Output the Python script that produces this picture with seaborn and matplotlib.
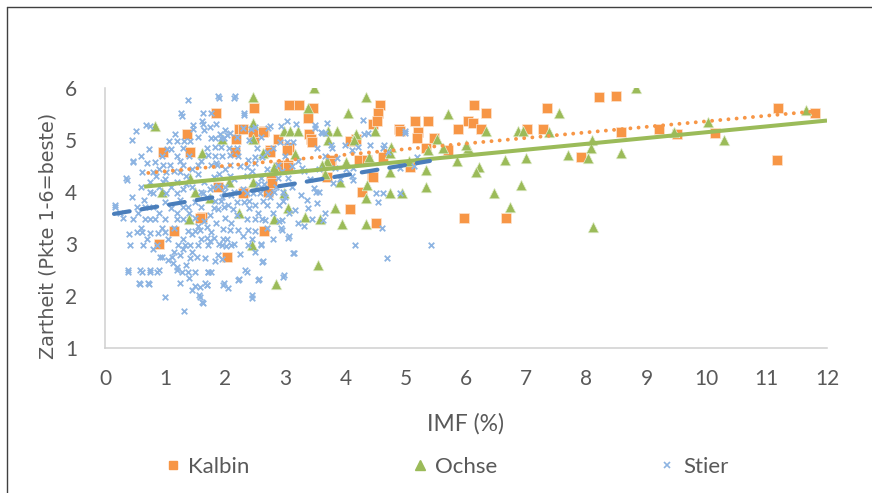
import numpy as np
import pandas as pd
import seaborn as sns
import matplotlib.pyplot as plt
from matplotlib.lines import Line2D

# Kalbin (orange squares)
kalbin_imf = [1.85, 2.47, 3.06, 3.22, 3.46, 3.37, 4.57, 4.54, 4.45, 1.36, 2.23, 2.29, 2.65, 2.17, 2.47,
              2.88, 3.06, 3.39, 3.42, 0.96, 1.42, 2.16, 2.75, 1.87, 2.31, 2.71, 2.76, 2.93, 3.04, 3.76,
              4.17, 4.22, 4.27, 4.43, 4.08, 4.51, 2.65, 1.61, 1.14, 0.89, 2.02, 4.89, 5.16, 5.20, 5.18,
              5.37, 5.46, 5.33, 5.70, 5.86, 6.03, 6.13, 6.11, 6.25, 6.33, 5.97, 6.66, 7.02, 7.28, 7.35,
              7.91, 8.21, 8.49, 8.58, 9.20, 9.50, 10.14, 11.17, 11.19, 11.80, 4.52, 4.90, 3.44, 4.07,
              3.74, 3.69, 4.62, 4.45, 5.07, 2.46, 2.63, 2.74, 3.02, 2.88, 3.04, 2.78, 2.30, 1.58, 4.35]
kalbin_zart = [5.52, 5.61, 5.68, 5.68, 5.61, 5.42, 5.68, 5.52, 5.31, 5.12, 5.21, 5.21, 5.18, 5.02, 5.02,
               5.02, 4.87, 5.12, 5.02, 4.76, 4.76, 4.76, 4.81, 4.10, 4.00, 4.00, 4.23, 4.52, 4.52, 4.62,
               5.02, 4.62, 4.00, 4.33, 3.67, 3.41, 3.25, 3.51, 3.25, 3.00, 2.75, 5.21, 5.36, 5.16, 5.03,
               5.36, 5.03, 4.84, 4.81, 5.22, 5.36, 5.68, 5.32, 5.22, 5.52, 3.50, 3.50, 5.22, 5.22, 5.61,
               4.68, 5.82, 5.85, 5.16, 5.22, 5.11, 5.13, 4.62, 5.61, 5.52, 5.37, 5.17, 4.96, 4.98,
               4.56, 4.29, 4.67, 4.29, 4.48, 5.15, 5.15, 4.77, 4.81, 4.48, 4.48, 4.17, 3.98, 3.50, 4.62]

# Ochse (green triangles)
ochse_imf = [3.48, 8.82, 2.46, 4.33, 4.04, 3.37, 2.46, 0.83, 5.70, 7.54, 11.65, 10.03, 10.29, 9.45, 7.38,
             6.86, 6.95, 6.34, 4.48, 4.17, 3.71, 3.85, 2.98, 3.07, 3.21, 1.94, 2.46, 3.71, 4.14, 4.76,
             5.51, 5.62, 6.04, 6.00, 8.10, 8.08, 8.03, 7.70, 8.58, 7.00, 6.65, 5.85, 5.37, 5.33, 5.05,
             6.22, 6.16, 4.73, 4.73, 4.38, 4.00, 3.69, 1.61, 2.63, 3.16, 2.81, 2.46, 1.41, 3.90, 3.65,
             0.94, 1.49, 2.98, 1.75, 2.06, 4.36, 4.33, 4.73, 4.94, 5.33, 6.46, 6.92, 6.73, 3.04, 3.82,
             2.23, 3.32, 3.57, 2.81, 1.39, 3.94, 4.33, 8.11, 2.45, 3.54, 2.85, 3.60]
ochse_zart = [6.00, 6.00, 5.82, 5.82, 5.52, 5.61, 5.32, 5.26, 5.50, 5.52, 5.58, 5.34, 5.00, 5.16, 5.16,
              5.18, 5.18, 5.18, 5.18, 5.11, 5.18, 5.18, 5.18, 5.18, 5.18, 5.02, 5.02, 5.00, 5.00, 4.87,
              5.02, 4.84, 4.84, 4.90, 5.00, 4.84, 4.65, 4.71, 4.75, 4.66, 4.62, 4.60, 4.81, 4.42, 4.60,
              4.49, 4.39, 4.39, 4.75, 4.68, 4.58, 4.60, 4.75, 4.75, 4.73, 4.49, 4.20, 4.26, 4.20, 4.34,
              4.00, 4.00, 3.98, 3.89, 4.20, 4.13, 3.89, 3.98, 3.98, 4.10, 3.98, 4.13, 3.72, 3.70, 3.70,
              3.59, 3.51, 3.49, 3.49, 3.49, 3.39, 3.39, 3.33, 2.99, 2.59, 2.24, 4.52]

# Stier (blue crosses)
stier_imf = [1.38, 1.88, 2.16, 1.26, 1.63, 1.77, 2.31, 1.46, 1.61, 0.51, 0.68, 0.74, 0.45, 0.46, 0.35, 0.16,
             1.28, 1.63, 1.16, 1.46, 1.06, 1.20, 1.31, 1.42, 0.73, 1.03, 1.10, 1.30, 0.83, 0.47, 0.96, 1.08,
             1.30, 1.55, 0.61, 0.80, 1.02, 1.24, 0.36, 0.75, 0.97, 1.19, 0.80, 1.02, 1.19, 1.63, 0.17, 0.53,
             0.66, 0.80, 1.30, 1.38, 1.60, 0.47, 0.66, 0.75, 0.83, 1.00, 1.19, 1.30, 0.53, 0.61, 0.75, 0.88,
             1.00, 1.38, 1.49, 1.58, 0.42, 0.63, 0.86, 1.21, 1.33, 1.41, 1.55, 0.91, 1.11, 1.25, 1.41, 1.53,
             1.66, 1.13, 1.19, 0.38, 0.61, 0.75, 0.86, 1.28, 1.38, 1.50, 1.71, 0.58, 0.73, 1.50, 1.58, 1.45,
             1.70, 1.00, 1.58, 1.63, 1.31,
             1.89, 2.14, 2.31, 1.74, 1.91, 2.03, 2.08, 1.76, 1.83, 1.93, 1.98, 2.29, 2.49, 2.71, 2.91, 3.02,
             3.12, 1.83, 1.93, 2.06, 2.52, 2.69, 1.71, 1.83, 1.94, 2.08, 2.21, 2.38, 2.49, 2.61, 1.76, 1.86,
             2.08, 2.36, 2.88, 3.27, 1.81, 2.08, 2.36, 2.60, 2.88, 3.04, 1.74, 1.88, 1.98, 2.14, 2.36, 2.46,
             2.58, 2.71, 2.81, 2.96, 1.83, 1.93, 2.31, 2.40, 2.50, 2.62, 2.90, 2.96,
             1.81, 1.88, 1.98, 2.12, 2.36, 2.49, 2.61, 2.66, 2.94, 1.69, 1.77, 1.96, 2.08, 2.21, 2.38, 2.49,
             2.94, 3.04, 1.69, 1.81, 1.96, 2.02, 2.10, 1.71, 1.94, 2.01, 2.38, 2.60, 1.88, 1.94, 1.83, 3.12,
             1.72, 1.77, 2.36, 2.61, 2.21, 2.54, 2.96, 1.69, 1.96, 2.04, 2.44, 2.45, 2.23, 2.56, 2.32, 2.62,
             2.97, 3.14, 3.05, 2.92, 2.60, 0.39, 0.59, 0.74, 0.89, 0.57, 0.72, 1.61, 1.57, 1.66, 1.97,
             3.69, 3.49, 3.60, 3.66, 4.29, 4.37, 4.99, 3.77, 4.10, 4.20, 4.62, 4.70, 3.83, 4.13, 4.90, 5.13,
             3.47, 3.50, 3.56, 3.79, 4.12, 4.50, 4.53, 4.62, 4.90, 3.52, 3.66, 3.62, 3.44, 4.60, 4.15, 4.68,
             5.42, 4.31, 4.40, 4.63, 4.98, 5.19, 3.76, 3.59, 3.02, 2.93, 2.74, 2.42, 3.17, 3.49, 3.99, 3.53,
             3.20, 3.30, 3.10, 3.25, 3.15, 3.38, 3.30, 2.80, 2.70, 2.75, 2.85, 2.55, 2.45, 2.25, 2.15, 2.00,
             1.90, 1.65, 1.55, 1.45, 1.35, 1.45, 1.30, 1.10, 0.90, 0.85, 0.70, 0.60, 0.95, 1.20, 1.40, 1.60,
             1.70, 1.55, 1.65, 1.85, 2.00, 2.20, 2.40, 2.60, 2.80, 3.00, 2.95, 3.10,
             1.00, 1.10, 1.20, 1.40, 1.50, 1.65, 1.75, 1.85, 1.55, 1.45, 1.30, 1.15, 1.05, 0.95, 0.90, 1.25,
             1.50, 1.70, 1.15, 1.30, 1.45, 1.60, 1.75, 1.90, 2.00, 2.10, 2.20, 2.30, 2.15, 2.25, 2.45, 2.55,
             2.70, 2.80, 2.50, 2.20, 2.05, 1.95, 2.40, 1.05, 1.20, 1.35, 1.40, 1.25, 0.95, 0.80, 0.70, 0.60,
             0.55, 0.65, 0.75, 0.60, 0.45, 0.30, 0.40, 0.25, 1.00, 1.15, 0.90, 1.25, 1.35, 1.60, 1.80, 2.00,
             2.10, 2.30, 1.85, 2.20, 2.50, 2.70, 2.65, 3.00, 3.05, 2.90, 3.20, 3.35, 3.40, 3.55, 3.65, 3.85,
             4.00, 4.10, 3.90]
stier_zart = [5.77, 5.85, 5.85, 5.52, 5.52, 5.52, 5.52, 5.29, 5.36, 5.18, 5.29, 5.27, 5.00, 4.60, 4.26, 3.75,
              5.46, 5.31, 5.11, 5.21, 4.98, 4.98, 4.98, 4.98, 4.83, 4.83, 4.83, 4.85, 4.58, 4.58, 4.52, 4.52,
              4.52, 4.52, 4.38, 4.38, 4.38, 4.38, 4.23, 4.19, 4.19, 4.19, 3.98, 3.98, 3.98, 3.98, 3.71, 3.71,
              3.71, 3.71, 3.71, 3.71, 3.71, 3.48, 3.48, 3.48, 3.48, 3.48, 3.48, 3.48, 3.23, 3.23, 3.21, 3.22,
              3.24, 3.25, 3.25, 3.26, 2.98, 2.98, 2.98, 2.98, 2.98, 2.98, 2.98, 2.75, 2.75, 2.78, 2.73, 2.75,
              2.73, 2.63, 2.56, 2.46, 2.46, 2.46, 2.46, 2.46, 2.46, 2.46, 2.46, 2.23, 2.23, 2.20, 2.17, 2.12,
              2.21, 1.98, 1.98, 1.87, 1.71,
              5.81, 5.81, 5.48, 5.25, 5.12, 5.10, 5.13, 5.04, 5.04, 5.04, 5.04, 5.23, 5.25, 5.23, 4.96, 4.96,
              4.96, 4.87, 4.87, 4.85, 4.85, 4.77, 4.72, 4.70, 4.70, 4.72, 4.70, 4.62, 4.67, 4.67, 4.52, 4.52,
              4.52, 4.49, 4.52, 4.46, 4.29, 4.31, 4.31, 4.27, 4.27, 4.27, 4.05, 4.12, 4.00, 4.00, 3.98, 3.98,
              3.98, 3.96, 4.00, 4.00, 3.83, 3.83, 3.81, 3.83, 3.75, 3.83, 3.75, 3.83,
              3.69, 3.67, 3.71, 3.67, 3.48, 3.48, 3.48, 3.46, 3.46, 3.33, 3.23, 3.29, 3.27, 3.27, 3.27, 3.25,
              3.27, 3.12, 3.12, 3.12, 3.10, 3.10, 2.98, 2.98, 2.98, 2.96, 2.98, 2.98, 2.79, 2.71, 2.67, 2.83,
              2.46, 2.46, 2.46, 2.65, 2.31, 2.31, 2.37, 2.21, 2.21, 2.15, 1.96, 2.01, 2.33, 2.33, 2.50, 2.67,
              2.41, 2.83, 3.15, 3.30, 3.00, 2.50, 2.50, 2.50, 2.50, 2.25, 2.25, 1.88, 2.01, 2.25, 2.25,
              5.33, 5.23, 5.13, 5.13, 5.38, 5.13, 5.13, 4.85, 4.81, 4.87, 4.85, 4.77, 4.46, 4.46, 4.46, 4.50,
              4.08, 4.00, 4.00, 4.17, 4.23, 3.98, 3.80, 3.98, 3.98, 3.79, 3.60, 3.46, 3.48, 3.31, 2.98, 2.73,
              2.98, 5.11, 4.91, 4.91, 5.18, 4.68, 4.91, 5.16, 5.36, 5.26, 5.27, 5.22, 5.30, 5.29, 4.91, 4.84,
              4.60, 4.40, 4.10, 3.95, 3.65, 3.70, 3.35, 3.60, 3.75, 3.90, 4.10, 4.15, 4.40, 4.50, 4.25, 4.45,
              4.35, 4.20, 4.35, 4.45, 4.30, 4.10, 4.05, 4.10, 4.10, 4.30, 4.55, 4.70, 4.70, 4.70, 4.70, 4.60,
              4.85, 5.05, 5.20, 5.30, 5.20, 5.05, 5.00, 5.05, 4.85, 4.70, 4.40, 4.50,
              3.80, 3.70, 3.60, 3.60, 3.50, 3.45, 3.55, 3.40, 3.35, 3.20, 3.10, 3.30, 3.10, 3.30, 3.60, 3.85,
              3.80, 3.90, 2.85, 2.90, 2.85, 3.10, 3.05, 3.00, 3.50, 3.40, 3.55, 3.15, 3.00, 2.80, 3.10, 3.60,
              3.30, 3.10, 2.85, 3.80, 3.75, 3.90, 3.70, 2.70, 2.50, 2.60, 2.35, 2.25, 2.75, 2.90, 3.10, 3.30,
              3.60, 3.85, 4.00, 4.10, 3.90, 3.50, 3.20, 3.60, 4.25, 4.40, 4.45, 4.60, 4.15, 4.00, 4.10, 4.10,
              3.95, 4.05, 4.55, 4.85, 4.55, 4.45, 4.15, 3.90, 3.60, 3.45, 3.40, 3.85, 4.25, 4.45, 4.70, 4.65,
              4.45, 4.30, 4.25]

# linear trendlines as shown in the chart (Excel)
groups = ['Kalbin', 'Ochse', 'Stier']
trend_icpt = [4.29, 4.03, 3.55]
trend_slope = [0.107, 0.112, 0.194]
trend_from = [0.72, 0.65, 0.15]
trend_to = [11.8, 12.0, 5.4]

sns.set_theme(style='white')
plt.rcParams['font.family'] = ['Lato', 'DejaVu Sans']

orange = '#F79646'
green = '#9BBB59'
lightblue = '#8DB4E2'
blue = '#4A7EBB'
grey = '#595959'

f = plt.figure(figsize=(8.72, 4.93), dpi=100)
ax = f.add_axes([0.1204, 0.2941, 0.828, 0.5274])

sns.scatterplot(x=kalbin_imf, y=kalbin_zart, marker='s', s=44, color=orange, edgecolor='#FCE4D0',
                linewidth=0.5, ax=ax, zorder=2)
sns.scatterplot(x=ochse_imf, y=ochse_zart, marker='^', s=58, color=green, edgecolor='#E2EDCF',
                linewidth=0.5, ax=ax, zorder=3)
sns.scatterplot(x=stier_imf, y=stier_zart, marker='x', s=16, color=lightblue, linewidth=1.3,
                ax=ax, zorder=4)

styles = [dict(color=orange, lw=2.8, linestyle=(0, (0.01, 2.1)), dash_capstyle='round'),
          dict(color=green, lw=2.9, linestyle='-', solid_capstyle='butt'),
          dict(color=blue, lw=3.0, linestyle=(0, (3.8, 2.9)), dash_capstyle='round')]
for i in range(3):
    xs = np.array([trend_from[i], trend_to[i]])
    ax.plot(xs, trend_icpt[i] + trend_slope[i] * xs, zorder=5, **styles[i])

ax.set_xlim(0, 12)
ax.set_ylim(1, 6)
ax.set_xticks(range(0, 13))
ax.set_yticks(range(1, 7))
ax.tick_params(length=0, labelsize=15, labelcolor=grey)
ax.tick_params(axis='x', pad=15)
ax.tick_params(axis='y', pad=20)
for s in ['top', 'right']:
    ax.spines[s].set_visible(False)
for s in ['left', 'bottom']:
    ax.spines[s].set_color('#CFCFCF')
    ax.spines[s].set_linewidth(1.1)

ax.set_xlabel('IMF (%)', fontsize=16.5, color=grey)
ax.xaxis.set_label_coords(0.5, -0.25)
ax.set_ylabel('Zartheit (Pkte 1-6=beste)', fontsize=13.8, color=grey, family='DejaVu Sans')
ax.yaxis.set_label_coords(-0.066, 0.43)

handles = [Line2D([], [], marker='s', ls='', color=orange, markersize=6),
           Line2D([], [], marker='^', ls='', color=green, markersize=6.5),
           Line2D([], [], marker='x', ls='', color=lightblue, markersize=4, markeredgewidth=1.2)]
f.legend(handles, groups, ncol=3, loc='center', bbox_to_anchor=(446 / 872, 1 - 467 / 493),
         frameon=False, fontsize=16, labelcolor=grey, columnspacing=7.25, handletextpad=0.3,
         handlelength=0.8)

# chart area border (cropped screenshot)
f.add_artist(Line2D([6.5 / 872, 6.5 / 872], [0, 1 - 7 / 493], color='#404040', lw=1))
f.add_artist(Line2D([6.5 / 872, 1], [1 - 7 / 493, 1 - 7 / 493], color='#404040', lw=1))

f.savefig('out.png', dpi=100)
